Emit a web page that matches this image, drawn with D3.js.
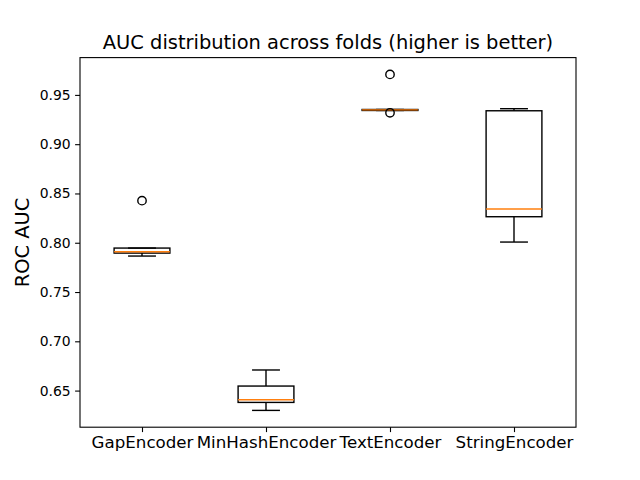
<!DOCTYPE html>
<html>
<head>
<meta charset="utf-8">
<script src="https://cdnjs.cloudflare.com/ajax/libs/d3/7.8.5/d3.min.js"></script>
<style>
  body { margin: 0; background: white; }
  svg { display: block; }
  text { font-family: "DejaVu Sans", sans-serif; fill: black; }
</style>
</head>
<body>
<script>
const ENCODERS = ["GapEncoder", "MinHashEncoder", "TextEncoder", "StringEncoder"];

// ROC AUC per fold (5 folds)
const GAP_SCORES = [0.7865, 0.7895, 0.7909, 0.7946, 0.8427];
const MINHASH_SCORES = [0.6299, 0.6380, 0.6407, 0.6546, 0.6709];
const TEXT_SCORES = [0.9318, 0.9342, 0.9348, 0.9352, 0.9708];
const STRING_SCORES = [0.8007, 0.8264, 0.8343, 0.9339, 0.9360];

const Y_TICKS = [0.65, 0.70, 0.75, 0.80, 0.85, 0.90, 0.95];

const WIDTH = 640, HEIGHT = 480;
const margin = {left: 80, right: 64, top: 57.6, bottom: 52.8};

let allScores = [GAP_SCORES, MINHASH_SCORES, TEXT_SCORES, STRING_SCORES];

// matplotlib-style box stats (linear quantiles, 1.5 IQR whiskers)
let boxes = ENCODERS.map((name, i) => {
	let vals = allScores[i].slice().sort(d3.ascending);
	let q1 = d3.quantile(vals, 0.25), med = d3.quantile(vals, 0.5), q3 = d3.quantile(vals, 0.75);
	let iqr = q3 - q1;
	let inside = vals.filter(v => v >= q1 - 1.5 * iqr && v <= q3 + 1.5 * iqr);
	return {
		name: name, pos: i + 1, q1: q1, med: med, q3: q3,
		lo: d3.min(inside), hi: d3.max(inside),
		fliers: vals.filter(v => v < q1 - 1.5 * iqr || v > q3 + 1.5 * iqr)
	};
});

let ext = d3.extent(allScores.flat());
let pad = (ext[1] - ext[0]) * 0.05;

let x = d3.scaleLinear().domain([0.5, ENCODERS.length + 0.5])
	.range([margin.left, WIDTH - margin.right]);
let y = d3.scaleLinear().domain([ext[0] - pad, ext[1] + pad])
	.range([HEIGHT - margin.bottom, margin.top]);

const BOX_W = 0.45, CAP_W = 0.225;

const svg = d3.select("body").append("svg")
	.attr("width", WIDTH)
	.attr("height", HEIGHT);

// axes
let yAxis = svg.append("g")
	.attr("transform", `translate(${margin.left},0)`)
	.call(d3.axisLeft(y).tickValues(Y_TICKS).tickFormat(d3.format(".2f")).tickSize(4.9).tickPadding(4.5).tickSizeOuter(0));
yAxis.select(".domain").remove();
yAxis.selectAll("line").attr("stroke-width", 1.1);
yAxis.selectAll("text").attr("font-size", "13.9px").attr("font-family", "DejaVu Sans");

let xAxis = svg.append("g")
	.attr("transform", `translate(0,${HEIGHT - margin.bottom})`)
	.call(d3.axisBottom(x).tickValues(boxes.map(b => b.pos)).tickFormat((d, i) => ENCODERS[i]).tickSize(4.9).tickPadding(4.2).tickSizeOuter(0));
xAxis.select(".domain").remove();
xAxis.selectAll("line").attr("stroke-width", 1.1);
xAxis.selectAll("text").attr("font-size", "16.67px").attr("font-family", "DejaVu Sans");

let g = svg.selectAll(".box")
	.data(boxes)
	.enter()
	.append("g")
	.attr("class", "box");

// whiskers
g.append("line")
	.attr("x1", d => x(d.pos)).attr("x2", d => x(d.pos))
	.attr("y1", d => y(d.q1)).attr("y2", d => y(d.lo))
	.attr("stroke", "black").attr("stroke-width", 1.4);
g.append("line")
	.attr("x1", d => x(d.pos)).attr("x2", d => x(d.pos))
	.attr("y1", d => y(d.q3)).attr("y2", d => y(d.hi))
	.attr("stroke", "black").attr("stroke-width", 1.4);

// caps
g.append("line")
	.attr("x1", d => x(d.pos - CAP_W / 2)).attr("x2", d => x(d.pos + CAP_W / 2))
	.attr("y1", d => y(d.lo)).attr("y2", d => y(d.lo))
	.attr("stroke", "black").attr("stroke-width", 1.4);
g.append("line")
	.attr("x1", d => x(d.pos - CAP_W / 2)).attr("x2", d => x(d.pos + CAP_W / 2))
	.attr("y1", d => y(d.hi)).attr("y2", d => y(d.hi))
	.attr("stroke", "black").attr("stroke-width", 1.4);

// box
g.append("rect")
	.attr("x", d => x(d.pos - BOX_W / 2))
	.attr("width", d => x(d.pos + BOX_W / 2) - x(d.pos - BOX_W / 2))
	.attr("y", d => y(d.q3))
	.attr("height", d => y(d.q1) - y(d.q3))
	.attr("fill", "none")
	.attr("stroke", "black")
	.attr("stroke-width", 1.4);

// median
g.append("line")
	.attr("x1", d => x(d.pos - BOX_W / 2)).attr("x2", d => x(d.pos + BOX_W / 2))
	.attr("y1", d => y(d.med)).attr("y2", d => y(d.med))
	.attr("stroke", "#ff7f0e").attr("stroke-width", 1.4);

// fliers
g.selectAll(".flier")
	.data(d => d.fliers.map(v => ({pos: d.pos, v: v})))
	.enter()
	.append("circle")
	.attr("cx", d => x(d.pos))
	.attr("cy", d => y(d.v))
	.attr("r", 4.2)
	.attr("fill", "none")
	.attr("stroke", "black")
	.attr("stroke-width", 1.4);

// frame
svg.append("rect")
	.attr("x", margin.left)
	.attr("y", margin.top)
	.attr("width", WIDTH - margin.left - margin.right)
	.attr("height", HEIGHT - margin.top - margin.bottom)
	.attr("fill", "none")
	.attr("stroke", "black")
	.attr("stroke-width", 1.1);

svg.append("text")
	.attr("x", (margin.left + WIDTH - margin.right) / 2)
	.attr("y", margin.top - 8.3)
	.attr("text-anchor", "middle")
	.attr("font-size", "19.44px")
	.text("AUC distribution across folds (higher is better)");

svg.append("text")
	.attr("transform", `translate(28.5,${(margin.top + HEIGHT - margin.bottom) / 2}) rotate(-90)`)
	.attr("text-anchor", "middle")
	.attr("font-size", "19.44px")
	.text("ROC AUC");
</script>
</body>
</html>
